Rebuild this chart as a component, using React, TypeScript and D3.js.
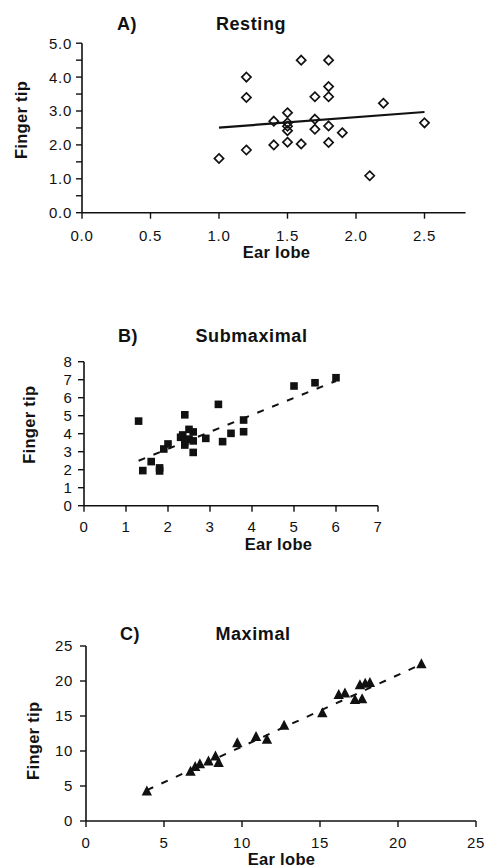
import React from "react";
import * as d3 from "d3";

// ---- Data ----
const restingEar = [1.0, 1.2, 1.2, 1.2, 1.4, 1.4, 1.5, 1.5, 1.5, 1.5, 1.5, 1.6, 1.6, 1.7, 1.7, 1.7, 1.8, 1.8, 1.8, 1.8, 1.8, 1.9, 2.1, 2.2, 2.5];
const restingFinger = [1.6, 4.0, 3.4, 1.85, 2.7, 2.0, 2.95, 2.65, 2.55, 2.42, 2.08, 4.5, 2.03, 3.42, 2.76, 2.46, 4.5, 3.72, 3.42, 2.56, 2.07, 2.36, 1.09, 3.23, 2.65];
const restingFitX = [1.0, 2.5];
const restingFitY = [2.51, 2.97];

const submaxEar = [1.3, 1.4, 1.6, 1.8, 1.8, 1.9, 2.0, 2.3, 2.4, 2.35, 2.4, 2.4, 2.5, 2.5, 2.6, 2.6, 2.6, 2.9, 3.2, 3.3, 3.5, 3.8, 3.8, 5.0, 5.5, 6.0];
const submaxFinger = [4.7, 1.95, 2.45, 2.1, 1.93, 3.15, 3.43, 3.8, 5.05, 3.93, 3.37, 3.56, 4.24, 3.7, 4.1, 3.6, 2.96, 3.74, 5.63, 3.56, 4.02, 4.76, 4.11, 6.65, 6.83, 7.11];
const submaxFitX = [1.3, 6.0];
const submaxFitY = [2.5, 6.93];

const maxEar = [3.9, 6.7, 7.0, 7.3, 7.85, 8.3, 8.5, 9.7, 10.9, 11.6, 12.7, 15.15, 16.2, 16.6, 17.24, 17.7, 17.56, 17.9, 18.2, 21.5];
const maxFinger = [4.2, 7.05, 7.7, 8.1, 8.5, 9.2, 8.3, 11.1, 12.0, 11.6, 13.6, 15.4, 18.0, 18.2, 17.3, 17.4, 19.4, 19.6, 19.7, 22.4];
const maxFitX = [3.9, 21.5];
const maxFitY = [4.4, 22.4];

const restingXTicks = [0, 0.5, 1.0, 1.5, 2.0, 2.5];
const restingYTicks = [0, 0.5, 1.0, 1.5, 2.0, 2.5, 3.0, 3.5, 4.0, 4.5, 5.0];
const restingYLabels = [0, 1.0, 2.0, 3.0, 4.0, 5.0];
const submaxXTicks = [0, 1, 2, 3, 4, 5, 6, 7];
const submaxYTicks = [0, 1, 2, 3, 4, 5, 6, 7, 8];
const maxXTicks = [0, 5, 10, 15, 20, 25];
const maxYTicks = [0, 5, 10, 15, 20, 25];

const FONT = "'Liberation Sans', Arial, Helvetica, sans-serif";
const INK = "#111";

type PanelProps = {
  x: d3.ScaleLinear<number, number>;
  y: d3.ScaleLinear<number, number>;
  xTicks: number[];
  yTicks: number[];
  yLabels: number[];
  fmt: (v: number) => string;
  xLabelBase: number;
  yLabelRight: number;
  letter: string;
  letterX: number;
  title: string;
  titleX: number;
  titleBase: number;
  earX: number;
  earBase: number;
  fingerX: number;
  fingerY: number;
  children?: React.ReactNode;
};

function Panel(p: PanelProps) {
  const [x0, x1] = p.x.range();
  const [y0, y1] = p.y.range();
  return (
    <g>
      {p.children}
      {/* axes */}
      <line x1={x0} x2={x1} y1={y0} y2={y0} stroke={INK} strokeWidth={1.6} />
      <line x1={x0} x2={x0} y1={y0} y2={y1} stroke={INK} strokeWidth={1.6} />
      {p.xTicks.map((t) => (
        <g key={"xt" + t}>
          <line x1={p.x(t)} x2={p.x(t)} y1={y0} y2={y0 + 6} stroke={INK} strokeWidth={1.4} />
          <text x={p.x(t)} y={p.xLabelBase} textAnchor="middle" fontSize={15} letterSpacing={0.7} fill={INK} fontFamily={FONT}>
            {p.fmt(t)}
          </text>
        </g>
      ))}
      {p.yTicks.map((t) => (
        <line key={"yt" + t} x1={x0 - 6} x2={x0} y1={p.y(t)} y2={p.y(t)} stroke={INK} strokeWidth={1.4} />
      ))}
      {p.yLabels.map((t) => (
        <text key={"yl" + t} x={p.yLabelRight} y={p.y(t)} dy="0.36em" textAnchor="end" fontSize={15} letterSpacing={0.7} fill={INK} fontFamily={FONT}>
          {p.fmt(t)}
        </text>
      ))}
      {/* titles */}
      <text x={p.letterX} y={p.titleBase} textAnchor="middle" fontSize={18} fontWeight="bold" letterSpacing={0.6} fill={INK} fontFamily={FONT}>
        {p.letter}
      </text>
      <text x={p.titleX} y={p.titleBase} textAnchor="middle" fontSize={18} fontWeight="bold" letterSpacing={0.6} fill={INK} fontFamily={FONT}>
        {p.title}
      </text>
      <text x={p.earX} y={p.earBase} textAnchor="middle" fontSize={16.5} fontWeight="bold" letterSpacing={0.3} fill={INK} fontFamily={FONT}>
        Ear lobe
      </text>
      <text
        transform={`translate(${p.fingerX},${p.fingerY}) rotate(-90)`}
        textAnchor="middle"
        fontSize={16.5}
        fontWeight="bold"
        letterSpacing={0.3}
        fill={INK}
        fontFamily={FONT}
      >
        Finger tip
      </text>
    </g>
  );
}

export default function App() {
  // Panel A
  const xA = d3.scaleLinear().domain([0, 2.8]).range([82, 465.6]);
  const yA = d3.scaleLinear().domain([0, 5]).range([212.7, 43.2]);
  // Panel B
  const xB = d3.scaleLinear().domain([0, 7]).range([84, 378]);
  const yB = d3.scaleLinear().domain([0, 8]).range([505.7, 361.7]);
  // Panel C
  const xC = d3.scaleLinear().domain([0, 25]).range([86, 476]);
  const yC = d3.scaleLinear().domain([0, 25]).range([821, 646]);

  const lineA = d3.line<number>().x((d, i) => xA(restingFitX[i])).y((d) => yA(d));
  const lineB = d3.line<number>().x((d, i) => xB(submaxFitX[i])).y((d) => yB(d));
  const lineC = d3.line<number>().x((d, i) => xC(maxFitX[i])).y((d) => yC(d));

  const fmt1 = (v: number) => v.toFixed(1);
  const fmt0 = (v: number) => String(v);

  return (
    <svg
      width={489}
      height={868}
      style={{ position: "absolute", left: 0, top: 0, background: "#fff" }}
      fontFamily={FONT}
    >
      <rect x={0} y={0} width={489} height={868} fill="#fff" />

      <Panel
        x={xA}
        y={yA}
        xTicks={restingXTicks}
        yTicks={restingYTicks}
        yLabels={restingYLabels}
        fmt={fmt1}
        xLabelBase={240.5}
        yLabelRight={72}
        letter="A)"
        letterX={127}
        title="Resting"
        titleX={251}
        titleBase={30}
        earX={276.5}
        earBase={257.5}
        fingerX={26.5}
        fingerY={120}
      >
        <path d={lineA(restingFitY) || ""} fill="none" stroke={INK} strokeWidth={2.2} />
        {restingEar.map((e, i) => (
          <path
            key={"a" + i}
            transform={`translate(${xA(e)},${yA(restingFinger[i])})`}
            d="M0,-4.6L4.6,0L0,4.6L-4.6,0Z"
            fill="#fff"
            fillOpacity={0}
            stroke={INK}
            strokeWidth={1.7}
          />
        ))}
      </Panel>

      <Panel
        x={xB}
        y={yB}
        xTicks={submaxXTicks}
        yTicks={submaxYTicks}
        yLabels={submaxYTicks}
        fmt={fmt0}
        xLabelBase={531.5}
        yLabelRight={72.5}
        letter="B)"
        letterX={128}
        title="Submaximal"
        titleX={251.5}
        titleBase={342}
        earX={278.5}
        earBase={549.5}
        fingerX={35}
        fingerY={424.7}
      >
        <path d={lineB(submaxFitY) || ""} fill="none" stroke={INK} strokeWidth={2} strokeDasharray="7,9" />
        {submaxEar.map((e, i) => (
          <rect key={"b" + i} x={xB(e) - 3.8} y={yB(submaxFinger[i]) - 3.8} width={7.6} height={7.6} fill={INK} />
        ))}
      </Panel>

      <Panel
        x={xC}
        y={yC}
        xTicks={maxXTicks}
        yTicks={maxYTicks}
        yLabels={maxYTicks}
        fmt={fmt0}
        xLabelBase={847.5}
        yLabelRight={73}
        letter="C)"
        letterX={130}
        title="Maximal"
        titleX={253}
        titleBase={639.5}
        earX={281.5}
        earBase={865}
        fingerX={38.5}
        fingerY={740.8}
      >
        <path d={lineC(maxFitY) || ""} fill="none" stroke={INK} strokeWidth={2} strokeDasharray="7,9" />
        {maxEar.map((e, i) => (
          <path
            key={"c" + i}
            transform={`translate(${xC(e)},${yC(maxFinger[i])})`}
            d="M0,-6L5.2,4L-5.2,4Z"
            fill={INK}
          />
        ))}
      </Panel>
    </svg>
  );
}
